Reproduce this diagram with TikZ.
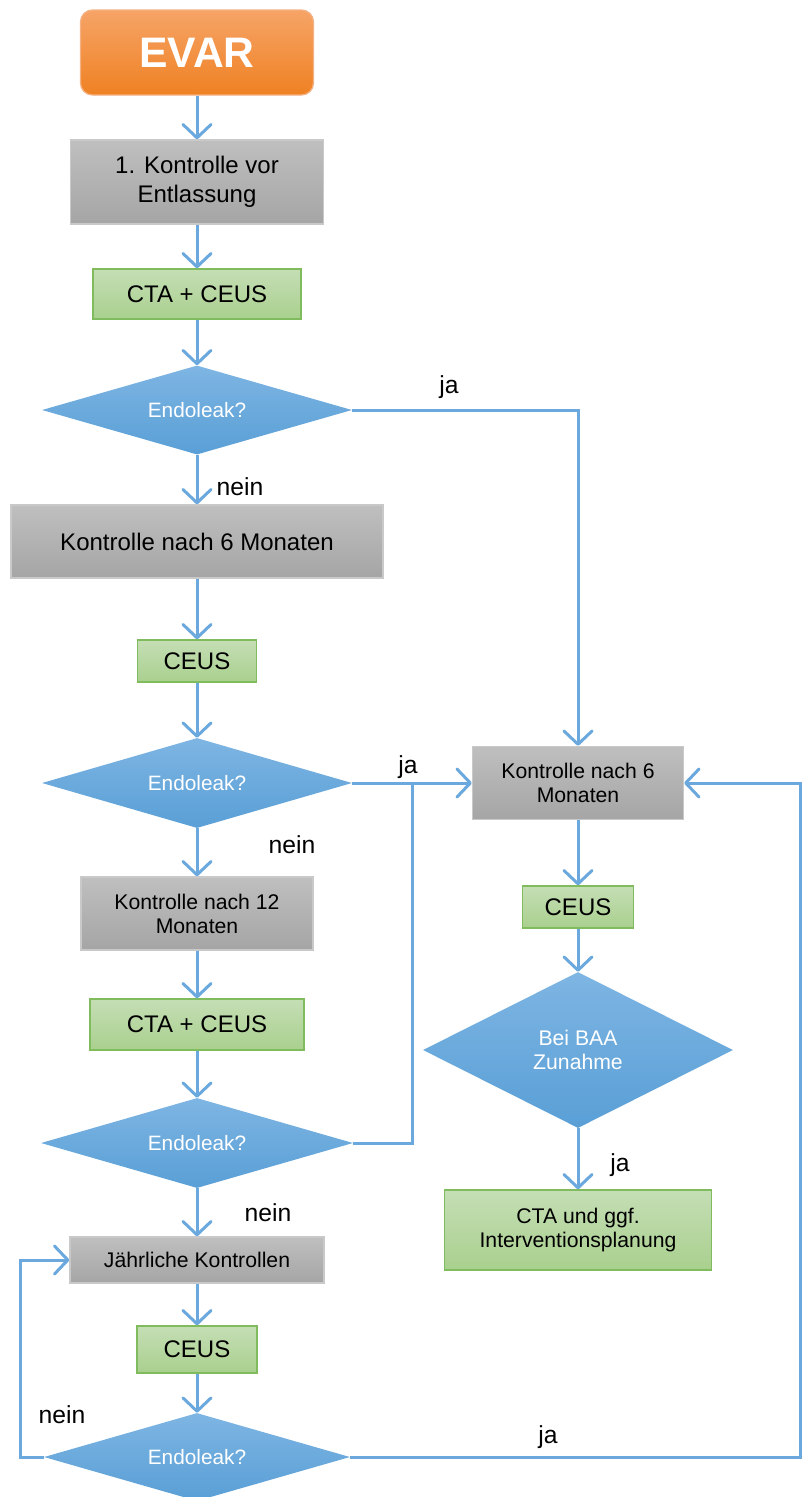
\documentclass[tikz,border=0pt]{standalone}
\usepackage{fontspec}
\setmainfont{Liberation Sans}
\usetikzlibrary{shapes.geometric, arrows.meta}

\definecolor{flowblue}{HTML}{6AA8DD}
\definecolor{dmdtop}{HTML}{7EB5E3}
\definecolor{dmdbot}{HTML}{599FD6}
\definecolor{graytop}{HTML}{BFBFBF}
\definecolor{graybot}{HTML}{A5A5A5}
\definecolor{grayline}{HTML}{C9C9C9}
\definecolor{greentop}{HTML}{C5DEB5}
\definecolor{greenbot}{HTML}{A9D08E}
\definecolor{greenline}{HTML}{80BC5E}
\definecolor{orangetop}{HTML}{F6A467}
\definecolor{orangebot}{HTML}{EF8123}
\definecolor{orangeline}{HTML}{F4B183}

\newcommand{\boxfont}{\fontsize{18}{21.75}\selectfont}
\newcommand{\smallboxfont}{\fontsize{15.9}{18}\selectfont}

\tikzset{
    startbox/.style={draw=orangeline, line width=1pt, rounded corners=9pt, top color=orangetop, bottom color=orangebot, text=white, inner sep=0pt, font=\bfseries\fontsize{32}{38}\selectfont},
    graybox/.style={draw=grayline, line width=1pt, top color=graytop, bottom color=graybot, inner sep=0pt, align=center},
    greenbox/.style={draw=greenline, line width=1pt, top color=greentop, bottom color=greenbot, inner sep=0pt, align=center},
    decision/.style={diamond, aspect=3.45, top color=dmdtop, bottom color=dmdbot, inner sep=0pt, text=white, align=center, font=\fontsize{15.6}{18}\selectfont},
    flow/.style={draw=flowblue, line width=2.25pt, -{Straight Barb[length=10pt, width=21pt, round]}},
    link/.style={draw=flowblue, line width=2.25pt},
    answer/.style={font=\fontsize{18.5}{22}\selectfont}
}

\begin{document}
\begin{tikzpicture}[x=0.75pt, y=-0.75pt]
    \useasboundingbox (0, 0) rectangle (802, 1497);

    % Start
    \node[startbox, minimum width=174.75pt, minimum height=63.75pt] (evar) at (197, 52.5) {EVAR};

    % Left column
    \node[graybox, minimum width=189.75pt, minimum height=63pt, font=\boxfont] (k1) at (197, 182) {1. Kontrolle vor\\Entlassung};
    \node[greenbox, minimum width=156pt, minimum height=37.5pt, font=\boxfont] (cta1) at (197, 294) {CTA + CEUS};
    \node[decision, minimum width=232.5pt, minimum height=66.75pt] (d1) at (197, 410) {Endoleak?};
    \node[graybox, minimum width=279pt, minimum height=54.75pt, font=\boxfont] (k6) at (197, 541.5) {Kontrolle nach 6 Monaten};
    \node[greenbox, minimum width=89.25pt, minimum height=31.5pt, font=\boxfont] (ceus1) at (197, 661) {CEUS};
    \node[decision, minimum width=232.5pt, minimum height=67.5pt] (d2) at (197, 783) {Endoleak?};
    \node[graybox, minimum width=174pt, minimum height=54.75pt, font=\smallboxfont] (k12) at (197, 913.5) {Kontrolle nach 12\\Monaten};
    \node[greenbox, minimum width=160.5pt, minimum height=38.25pt, font=\boxfont] (cta2) at (197, 1024.5) {CTA + CEUS};
    \node[decision, minimum width=234pt, minimum height=67.5pt] (d3) at (197, 1143) {Endoleak?};
    \node[graybox, minimum width=190.5pt, minimum height=34.5pt, font=\smallboxfont] (jk) at (197, 1260) {Jährliche Kontrollen};
    \node[greenbox, minimum width=90pt, minimum height=35.25pt, font=\boxfont] (ceus3) at (197, 1349.5) {CEUS};
    \node[decision, minimum width=229.5pt, minimum height=66pt] (d4) at (197, 1457) {Endoleak?};

    % Right column
    \node[graybox, minimum width=158.25pt, minimum height=54.75pt, font=\smallboxfont] (k6r) at (578, 783) {Kontrolle nach 6\\Monaten};
    \node[greenbox, minimum width=83.25pt, minimum height=31.5pt, font=\boxfont] (ceusr) at (578, 907) {CEUS};
    \node[decision, aspect=2, minimum width=232.5pt, minimum height=117pt, font=\smallboxfont] (baa) at (578, 1050) {Bei BAA\\Zunahme};
    \node[greenbox, minimum width=200.25pt, minimum height=60pt, font=\smallboxfont] (ctar) at (578, 1230) {CTA und ggf.\\Interventionsplanung};

    % Answers
    \node[answer] (ja1) at (449, 387) {ja};
    \node[answer] (nein1) at (240, 487) {nein};
    \node[answer] (ja2) at (408, 767) {ja};
    \node[answer] (nein2) at (292, 845) {nein};
    \node[answer] (nein3) at (268, 1213) {nein};
    \node[answer] (ja5) at (620, 1165) {ja};
    \node[answer] (nein4) at (62, 1415) {nein};
    \node[answer] (ja4) at (548, 1437) {ja};

    % Corners
    \coordinate (merge) at (412, 783);
    \coordinate (loopL) at (20, 1457);
    \coordinate (loopR) at (800, 1457);

    % Main path
    \draw[flow] (evar) -- (k1);
    \draw[flow] (k1) -- (cta1);
    \draw[flow] (cta1) -- (d1);
    \draw[flow] (d1) -- (k6);
    \draw[flow] (k6) -- (ceus1);
    \draw[flow] (ceus1) -- (d2);
    \draw[flow] (d2) -- (k12);
    \draw[flow] (k12) -- (cta2);
    \draw[flow] (cta2) -- (d3);
    \draw[flow] (d3) -- (jk);
    \draw[flow] (jk) -- (ceus3);
    \draw[flow] (ceus3) -- (d4);

    % Endoleak branches
    \draw[flow] (d1.east) -| (k6r.north);
    \draw[flow] (d2.east) -- (k6r.west);
    \draw[link] (d3.east) -| (merge);
    \draw[flow] (d4.west) -- (loopL) |- (jk.west);
    \draw[flow] (d4.east) -- (loopR) |- (k6r.east);

    % Right column path
    \draw[flow] (k6r) -- (ceusr);
    \draw[flow] (ceusr) -- (baa);
    \draw[flow] (baa) -- (ctar);
\end{tikzpicture}
\end{document}
